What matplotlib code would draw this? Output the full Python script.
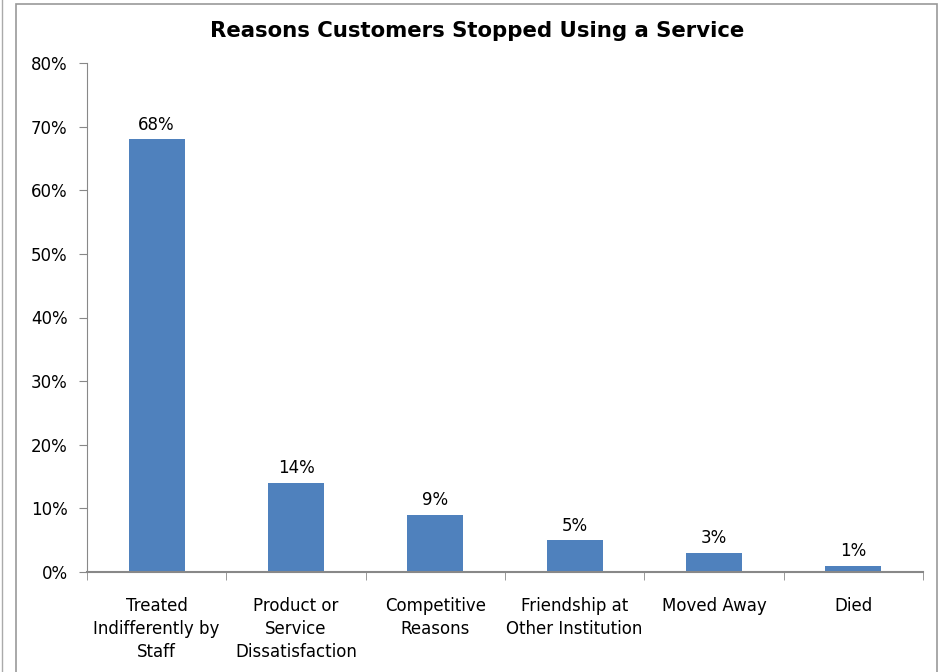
import matplotlib.pyplot as plt
from matplotlib.patches import Rectangle
from matplotlib.lines import Line2D
import numpy as np

reasons = ['Treated\nIndifferently by\nStaff', 'Product or\nService\nDissatisfaction',
           'Competitive\nReasons', 'Friendship at\nOther Institution', 'Moved Away', 'Died']
shares = [68, 14, 9, 5, 3, 1]
yticks = [0, 10, 20, 30, 40, 50, 60, 70, 80]

plt.rcParams['font.family'] = ['DejaVu Sans']

fig = plt.figure(figsize=(9.39, 6.72), dpi=100)
ax = fig.add_axes([87/939, 100/672, 836/939, 509/672])

x = np.arange(len(reasons))
bars = ax.bar(x, shares, width=0.4, color='#4F81BD')
for b, v in zip(bars, shares):
    ax.annotate(f'{v}%', (b.get_x() + b.get_width()/2, v), xytext=(0, 4),
                textcoords='offset points', ha='center', va='bottom', fontsize=12)

ax.set_xlim(-0.5, len(reasons) - 0.5)
ax.set_ylim(0, 80)
ax.set_yticks(yticks)
ax.set_yticklabels([f'{t}%' for t in yticks], fontsize=12)
ax.set_xticks(x)
ax.set_xticklabels(reasons, fontsize=12, linespacing=1.35)
ax.set_xticks(np.arange(-0.5, len(reasons)), minor=True)
ax.tick_params(axis='x', which='major', length=0, pad=18)
ax.tick_params(axis='x', which='minor', length=6, color='#888888', direction='out')
ax.tick_params(axis='y', length=6, color='#888888', pad=8)

for s in ['top', 'right']:
    ax.spines[s].set_visible(False)
for s in ['left', 'bottom']:
    ax.spines[s].set_color('#888888')
ax.spines['bottom'].set_linewidth(1.5)

fig.text(477/939, 1 - 31/672, 'Reasons Customers Stopped Using a Service',
         ha='center', va='center', fontsize=15.3, fontweight='bold')

# chart frame
fig.patches.append(Rectangle((16/939, -0.01), 921/939, 1 - 4/672 + 0.01,
                             transform=fig.transFigure, fill=False,
                             edgecolor='#999999', linewidth=1.2))
fig.lines.append(Line2D([2/939, 2/939], [0, 1], transform=fig.transFigure,
                        color='#aaaaaa', linewidth=1))

plt.savefig('out.png', dpi=100)
